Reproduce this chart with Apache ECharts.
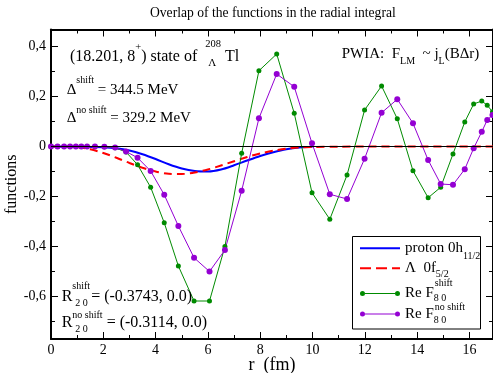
<!DOCTYPE html>
<html><head><meta charset="utf-8">
<script src="https://cdn.jsdelivr.net/npm/echarts@6/dist/echarts.min.js"></script>
<style>html,body{margin:0;padding:0;background:#fff}#c{width:493px;height:373px}</style>
</head><body><div id="c"></div>
<script>
// ---------------- data ----------------
const titleText = 'Overlap of the functions in the radial integral';
const xTitle = 'r  (fm)';
const yTitle = 'functions';
const seriesNames = ['proton 0h11/2', 'Λ 0f5/2', 'Re F80 shift', 'Re F80 no shift'];

// radial grid of the marked series
const rPts = [0, 0.25, 0.5, 0.73, 0.95, 1.16, 1.38, 1.68, 2.04, 2.45, 2.87, 3.31, 3.81, 4.33, 4.87, 5.47, 6.06, 6.65,
  7.29, 7.95, 8.63, 9.30, 9.98, 10.66, 11.32, 11.99, 12.64, 13.24, 13.84, 14.42, 14.90, 15.37, 15.82, 16.16, 16.47, 16.68, 16.88];
const greenVals = [0, 0, 0, 0, 0, 0, 0, 0, -0.001, -0.005, -0.022, -0.073, -0.163, -0.305, -0.478, -0.618, -0.618, -0.40,
  -0.027, 0.303, 0.37, 0.133, -0.185, -0.291, -0.114, 0.146, 0.242, 0.111, -0.097, -0.205, -0.163, -0.03, 0.098, 0.17, 0.182, 0.165, 0.139];
const purpleVals = [0, 0, 0, 0, 0, 0, 0, 0, -0.001, -0.004, -0.02, -0.045, -0.098, -0.193, -0.318, -0.445, -0.5, -0.414,
  -0.177, 0.113, 0.29, 0.239, 0.013, -0.191, -0.21, -0.049, 0.135, 0.189, 0.093, -0.054, -0.15, -0.153, -0.091, -0.007, 0.059, 0.106, 0.126];

const blueR = [0, 1, 2, 2.5, 3, 3.5, 4, 4.5, 5, 5.5, 6, 6.5, 7, 7.5, 8, 8.5, 9, 9.5, 10];
const blueVals = [0, -0.001, -0.003, -0.007, -0.016, -0.031, -0.05, -0.071, -0.088, -0.098, -0.1, -0.092, -0.075, -0.056, -0.038, -0.023, -0.011, -0.004, -0.001];
const redR = [0, 0.5, 1, 1.5, 2, 2.5, 3, 3.5, 4, 4.5, 5, 5.5, 6, 6.5, 7, 7.5, 8, 8.5, 9, 9.5, 10, 11, 12, 14, 16.9];
const redVals = [0, 0, -0.002, -0.011, -0.026, -0.045, -0.066, -0.085, -0.1, -0.109, -0.11, -0.104, -0.092, -0.076, -0.059, -0.042, -0.028, -0.017, -0.009, -0.004, -0.002, -0.001, 0, 0, 0];

const xMajorTicks = [0, 2, 4, 6, 8, 10, 12, 14, 16];
const xMinorTicks = [1, 3, 5, 7, 9, 11, 13, 15];
const yMajorTicks = [-0.6, -0.4, -0.2, 0, 0.2, 0.4];
const yMinorTicks = [-0.7, -0.5, -0.3, -0.1, 0.1, 0.3];
const X_MIN = 0, X_MAX = 16.9, Y_MIN = -0.77, Y_MAX = 0.468;

// ---------------- helpers ----------------
const FONT = '"Liberation Serif", "Times New Roman", serif';
const pairs = (xs, ys) => xs.map((x, i) => [x, ys[i]]);
const mctx = document.createElement('canvas').getContext('2d');
function tw(t, s) { mctx.font = s + 'px "Liberation Serif"'; return mctx.measureText(t).width; }
function textRun(x0, yc, parts) {
  const out = []; let cur = x0, pend = x0;
  parts.forEach(p => {
    const start = cur + (p.dx || 0);
    const end = start + tw(p.t, p.s);
    out.push({ type: 'text', x: start, y: yc + (p.dy || 0), silent: true, z: 20,
      style: { text: p.t, fontFamily: FONT, fontSize: p.s, fill: '#000', align: 'left', verticalAlign: 'middle',
               textAlign: 'left', textVerticalAlign: 'middle' } });
    if (p.hold) { pend = Math.max(pend, end); }
    else { cur = Math.max(end, pend); pend = cur; }
  });
  return out;
}
function mkAxis(kind, pos, ticks, len, line, label) {
  const isX = kind === 'x';
  const ax = {
    type: 'value', position: pos, min: isX ? X_MIN : Y_MIN, max: isX ? X_MAX : Y_MAX,
    axisLine: { show: line, onZero: false, lineStyle: { color: '#000', width: 2 } },
    axisTick: { show: true, inside: true, length: len, customValues: ticks, lineStyle: { color: '#000', width: 1 } },
    axisLabel: { show: label, customValues: ticks, color: '#000', fontFamily: FONT, fontSize: 14,
      margin: isX ? 4 : 5,
      formatter: v => isX ? String(v) : (Math.abs(v) < 1e-9 ? '0' : v.toFixed(1).replace('.', ',')) },
    splitLine: { show: false }, minorTick: { show: false }, minorSplitLine: { show: false },
    axisPointer: { show: false }, silent: true
  };
  return ax;
}

const ICON_SOLID = 'path://M0,0H40V2H0Z';
const ICON_DASH = 'path://M0,0H11V2H0Z M16,0H27V2H16Z M32,0H40V2H32Z';
const ICON_DOTS = 'path://M5,3.5H35V4.5H5Z M0,4A2.5,2.5 0 1 0 5,4A2.5,2.5 0 1 0 0,4Z M35,4A2.5,2.5 0 1 0 40,4A2.5,2.5 0 1 0 35,4Z';

const R = (o) => Object.assign({ fontFamily: FONT, color: '#000' }, o);
function mkLegend(name, icon, ih, rowY, text, rich) {
  return {
    data: [{ name: name, icon: icon }], left: 360, top: rowY - 12, orient: 'vertical',
    itemWidth: 40, itemHeight: ih, padding: 0, itemGap: 0, selectedMode: false, z: 10,
    itemStyle: { borderWidth: 0 },
    textStyle: { fontFamily: FONT, fontSize: 15, color: '#000', rich: rich },
    formatter: () => text
  };
}
const mainTok = R({ fontSize: 15, height: 24, lineHeight: 24, verticalAlign: 'middle' });

const graphics = [
  { type: 'rect', shape: { x: 352.5, y: 236.5, width: 128, height: 92.5 }, style: { fill: '#fff', stroke: '#000', lineWidth: 1 }, z: 5, silent: true }
].concat(
  textRun(70, 56.5, [{ t: '(18.201, 8', s: 16 }, { t: '+', s: 10.5, dy: -9 }, { t: ') state of  ', s: 16 },
    { t: 'Λ', s: 11, dy: 7, dx: 3, hold: true }, { t: '208', s: 10.5, dy: -12 }, { t: ' Tl', s: 16 }]),
  textRun(66.7, 90, [{ t: 'Δ', s: 15 }, { t: 'shift', s: 10, dy: -10 }, { t: ' = 344.5 MeV', s: 15 }]),
  textRun(66.7, 118.3, [{ t: 'Δ', s: 15 }, { t: 'no shift', s: 10, dy: -8 }, { t: ' = 329.2 MeV', s: 15 }]),
  textRun(341.7, 54.5, [{ t: 'PWIA:  F', s: 15 }, { t: 'LM', s: 10, dy: 6.5 }, { t: '  ~ j', s: 15 }, { t: 'L', s: 10, dy: 6.5 }, { t: '(BΔr)', s: 15 }]),
  textRun(61.7, 296.4, [{ t: 'R', s: 16 }, { t: '2 0', s: 10, dy: 7, dx: 3, hold: true }, { t: 'shift', s: 10, dy: -9.7 }, { t: '= (-0.3743, 0.0)', s: 16, dx: 1 }]),
  textRun(61.7, 323, [{ t: 'R', s: 16 }, { t: '2 0', s: 10, dy: 6.7, dx: 3, hold: true }, { t: 'no shift', s: 10, dy: -8 }, { t: '= (-0.3114, 0.0)', s: 16, dx: 4 }])
);

const option = {
  animation: false,
  backgroundColor: '#fff',
  title: { text: titleText, left: 150, top: 6, padding: 0,
    textStyle: { fontFamily: FONT, fontSize: 13.6, fontWeight: 'normal', color: '#000' } },
  grid: { left: 51, top: 29.5, width: 442, height: 309.5, containLabel: false, outerBoundsMode: 'none' },
  xAxis: [
    Object.assign(mkAxis('x', 'bottom', xMajorTicks, 7, true, true), {
      name: xTitle, nameLocation: 'middle', nameGap: 17, nameMoveOverlap: false,
      nameTextStyle: { fontFamily: FONT, fontSize: 18, color: '#000' } }),
    mkAxis('x', 'bottom', xMinorTicks, 4, false, false),
    mkAxis('x', 'top', xMajorTicks, 7, true, false),
    mkAxis('x', 'top', xMinorTicks, 4, false, false)
  ],
  yAxis: [
    Object.assign(mkAxis('y', 'left', yMajorTicks, 7, true, true), {
      name: yTitle, nameLocation: 'middle', nameGap: 31, nameMoveOverlap: false,
      nameTextStyle: { fontFamily: FONT, fontSize: 16, color: '#000' } }),
    mkAxis('y', 'left', yMinorTicks, 4, false, false),
    mkAxis('y', 'right', yMajorTicks, 7, true, false),
    mkAxis('y', 'right', yMinorTicks, 4, false, false)
  ],
  legend: [
    mkLegend(seriesNames[0], ICON_SOLID, 2, 248.3, '{m|proton 0h}{s|11/2}',
      { m: mainTok, s: R({ fontSize: 10, height: 8, lineHeight: 8, verticalAlign: 'bottom' }) }),
    mkLegend(seriesNames[1], ICON_DASH, 2, 268.3, '{m|Λ  0f}{s|5/2}',
      { m: mainTok, s: R({ fontSize: 10, height: 12, lineHeight: 12, verticalAlign: 'bottom' }) }),
    mkLegend(seriesNames[2], ICON_DOTS, 5, 290.5, '{m|Re F}{a|8 0}{b|shift}',
      { m: mainTok, a: R({ fontSize: 10, height: 14, lineHeight: 14, verticalAlign: 'bottom', width: 1 }),
        b: R({ fontSize: 10, height: 4, lineHeight: 4, verticalAlign: 'top' }) }),
    mkLegend(seriesNames[3], ICON_DOTS, 5, 314, '{m|Re F}{a|8 0}{b|no shift}',
      { m: mainTok, a: R({ fontSize: 10, height: 12, lineHeight: 12, verticalAlign: 'bottom', width: 1 }),
        b: R({ fontSize: 10, height: 10, lineHeight: 10, verticalAlign: 'top' }) })
  ],
  series: [
    { name: seriesNames[0], type: 'line', data: pairs(blueR, blueVals), smooth: 0.3, symbol: 'none',
      color: '#0000ff', lineStyle: { color: '#0000ff', width: 2 }, z: 2,
      markLine: { silent: true, symbol: ['none', 'none'], label: { show: false }, animation: false,
        lineStyle: { color: '#000', width: 1, type: 'solid' }, emphasis: { disabled: true }, data: [{ yAxis: 0 }] } },
    { name: seriesNames[1], type: 'line', data: pairs(redR, redVals), smooth: 0.3, symbol: 'none',
      color: '#ff0000', lineStyle: { color: '#ff0000', width: 2, type: [8, 5] }, z: 3 },
    { name: seriesNames[2], type: 'line', data: pairs(rPts, greenVals), symbol: 'circle', symbolSize: 5,
      color: '#008b00', itemStyle: { color: '#008b00' }, lineStyle: { color: '#008b00', width: 1 }, z: 4 },
    { name: seriesNames[3], type: 'line', data: pairs(rPts, purpleVals), symbol: 'circle', symbolSize: 6,
      color: '#9400d3', itemStyle: { color: '#9400d3' }, lineStyle: { color: '#9400d3', width: 1 }, z: 4 }
  ],
  graphic: { elements: graphics }
};
const chart = echarts.init(document.getElementById('c'), null, { renderer: 'canvas' });
chart.setOption(option);
</script>
</body></html>
